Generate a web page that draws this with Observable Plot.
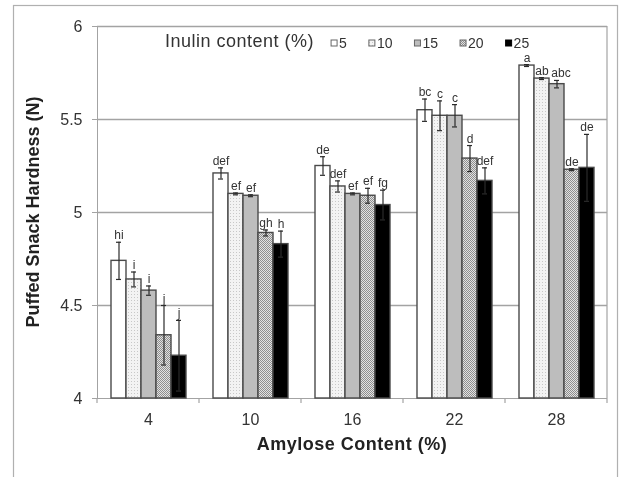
<!DOCTYPE html>
<html><head><meta charset="utf-8">
<script src="https://cdn.jsdelivr.net/npm/d3@7"></script>
<script src="https://cdn.jsdelivr.net/npm/@observablehq/plot@0.6"></script>
<style>
html,body{margin:0;padding:0;background:#fff;}
#chart{position:relative;width:621px;height:477px;will-change:transform;}
#chart svg text{fill:#333;}
</style>
</head><body><div id="chart"></div>
<script>
// Categories
const amylose = [4, 10, 16, 22, 28];          // Amylose content (%)
const inulin = [5, 10, 15, 20, 25];           // Inulin content (%)
// Mean hardness (N) per inulin level, across amylose groups
const inulin5  = [4.74, 5.21, 5.25, 5.55, 5.79];
const inulin10 = [4.64, 5.10, 5.14, 5.52, 5.72];
const inulin15 = [4.58, 5.09, 5.10, 5.52, 5.69];
const inulin20 = [4.34, 4.89, 5.09, 5.29, 5.23];
const inulin25 = [4.23, 4.83, 5.04, 5.17, 5.24];
// Error bar half-widths
const err5  = [0.10, 0.03, 0.05, 0.06, 0.005];
const err10 = [0.04, 0.005, 0.03, 0.08, 0.005];
const err15 = [0.025, 0.005, 0.005, 0.06, 0.02];
const err20 = [0.16, 0.016, 0.04, 0.07, 0.005];
const err25 = [0.19, 0.07, 0.08, 0.07, 0.18];
// Significance letters
const sig5  = ["hi", "def", "de", "bc", "a"];
const sig10 = ["i", "ef", "def", "c", "ab"];
const sig15 = ["i", "ef", "ef", "c", "abc"];
const sig20 = ["j", "gh", "ef", "d", "de"];
const sig25 = ["j", "h", "fg", "def", "de"];

const series = [inulin5, inulin10, inulin15, inulin20, inulin25];
const errs = [err5, err10, err15, err20, err25];
const sigs = [sig5, sig10, sig15, sig20, sig25];
const fills = ["#ffffff", "url(#pat10)", "#bdbdbd", "url(#pat20)", "#000000"];

const rows = [];
amylose.forEach((a, i) => {
  inulin.forEach((n, j) => {
    const prev = j > 0 ? {sig: sigs[j - 1][i], top: series[j - 1][i] + errs[j - 1][i]} : null;
    const top = series[j][i] + errs[j][i];
    // label collides with its left neighbour (same height, long texts)?
    const crowded = prev !== null && Math.abs(prev.top - top) < 0.03 && (prev.sig.length + sigs[j][i].length) >= 5;
    rows.push({amylose: a, inulin: n, value: series[j][i], err: errs[j][i], sig: sigs[j][i], pat: fills[j], crowded});
  });
});

const FONT = "'Liberation Sans', Arial, sans-serif";
const GRID = "#a3a3a3";

const plot = Plot.plot({
  width: 621, height: 477,
  marginLeft: 95, marginRight: 13, marginTop: 26, marginBottom: 79,
  style: {fontFamily: FONT, fontSize: "16px", color: GRID, background: "transparent", overflow: "visible"},
  facet: {data: rows, x: "amylose"},
  fx: {padding: 0, axis: "bottom", label: null, tickSize: 0, tickPadding: 15},
  x: {domain: inulin, paddingInner: 0, paddingOuter: 0.7, axis: null},
  y: {domain: [4, 6], ticks: [4, 4.5, 5, 5.5, 6], tickFormat: d => String(d), tickSize: 5, tickPadding: 10, label: null, line: true},
  color: {type: "identity"},
  marks: [
    Plot.ruleY([4.5, 5, 5.5, 6], {stroke: GRID, strokeWidth: 1.4}),
    Plot.ruleY([4], {stroke: GRID, strokeWidth: 1.2}),
    Plot.barY(rows, {x: "inulin", y1: 4, y2: "value", fill: "pat", stroke: "#4a4a4a", strokeWidth: 1.4}),
    Plot.ruleX(rows, {x: "inulin", y1: d => d.value - d.err, y2: d => d.value + d.err, stroke: "#2a2a2a", strokeWidth: 1.2}),
    Plot.tickY(rows, {x: "inulin", y: d => d.value + d.err, stroke: "#2a2a2a", strokeWidth: 1.2, insetLeft: 5, insetRight: 5}),
    Plot.tickY(rows, {x: "inulin", y: d => d.value - d.err, stroke: "#2a2a2a", strokeWidth: 1.2, insetLeft: 5, insetRight: 5}),
    Plot.text(rows, {filter: d => !d.crowded, x: "inulin", y: d => d.value + d.err, text: "sig", lineAnchor: "bottom", dy: -3, fontSize: 12}),
    Plot.text(rows, {filter: d => d.crowded, x: "inulin", y: d => d.value + d.err, text: "sig", lineAnchor: "bottom", dy: -3, dx: 4, fontSize: 12})
  ]
});

document.getElementById("chart").appendChild(plot);

const svg = d3.select(plot);
const fx = plot.scale("fx");
const ys = plot.scale("y");
const yTop = ys.apply(6), yBot = ys.apply(4);
const xLeft = fx.apply(amylose[0]);
const xRight = fx.apply(amylose[amylose.length - 1]) + fx.bandwidth;

// patterns
const defs = svg.insert("defs", ":first-child");
function makePattern(id, size, bg, dots) {
  const p = defs.append("pattern").attr("id", id).attr("patternUnits", "userSpaceOnUse")
    .attr("width", size).attr("height", size);
  p.append("rect").attr("width", size).attr("height", size).attr("fill", bg);
  dots.forEach(([x, y, c]) => p.append("rect").attr("x", x).attr("y", y).attr("width", 1).attr("height", 1).attr("fill", c));
}
makePattern("pat10", 3, "#f3f3f3", [[0, 0, "#c8c8c8"]]);
makePattern("pat20", 2, "#e2e2e2", [[0, 0, "#8e8e8e"], [1, 1, "#8e8e8e"]]);

// category boundary ticks and right frame
const deco = svg.append("g").attr("stroke", GRID).attr("stroke-width", 1.2);
amylose.forEach(a => {
  const x = fx.apply(a);
  deco.append("line").attr("x1", x).attr("x2", x).attr("y1", yBot).attr("y2", yBot + 5);
});
deco.append("line").attr("x1", xRight).attr("x2", xRight).attr("y1", yTop).attr("y2", yBot + 5);

// outer border
svg.append("rect").attr("x", 13.5).attr("y", 5.5).attr("width", 604).attr("height", 490)
  .attr("fill", "none").attr("stroke", "#b0b0b0").attr("stroke-width", 1.2);

// axis titles
svg.append("text").text("Amylose Content (%)")
  .attr("x", (xLeft + xRight) / 2).attr("y", 450)
  .attr("text-anchor", "middle").attr("font-weight", "bold").attr("font-size", 18)
  .attr("letter-spacing", "0.5px").style("fill", "#222");
svg.append("text").text("Puffed Snack Hardness (N)")
  .attr("transform", `translate(33,${(yTop + yBot) / 2}) rotate(-90)`)
  .attr("text-anchor", "middle").attr("dy", "0.35em").attr("font-weight", "bold").attr("font-size", 18)
  .style("fill", "#222");

// legend
const lg = svg.append("g").attr("font-family", FONT).attr("text-anchor", "start");
const legTitle = lg.append("text").text("Inulin content (%)")
  .attr("x", xLeft + 68).attr("y", 47).attr("font-size", 18).attr("letter-spacing", "0.5px");
let lx = xLeft + 68 + legTitle.node().getComputedTextLength() + 17;
inulin.forEach((n, j) => {
  lg.append("rect").attr("x", lx).attr("y", 40).attr("width", 6).attr("height", 6)
    .attr("fill", fills[j]).attr("stroke", j === 4 ? "#000" : "#666").attr("stroke-width", 1);
  const t = lg.append("text").text(String(n)).attr("x", lx + 8).attr("y", 48).attr("font-size", 14);
  lx += 8 + t.node().getComputedTextLength() + 22;
});
</script>
</body></html>
